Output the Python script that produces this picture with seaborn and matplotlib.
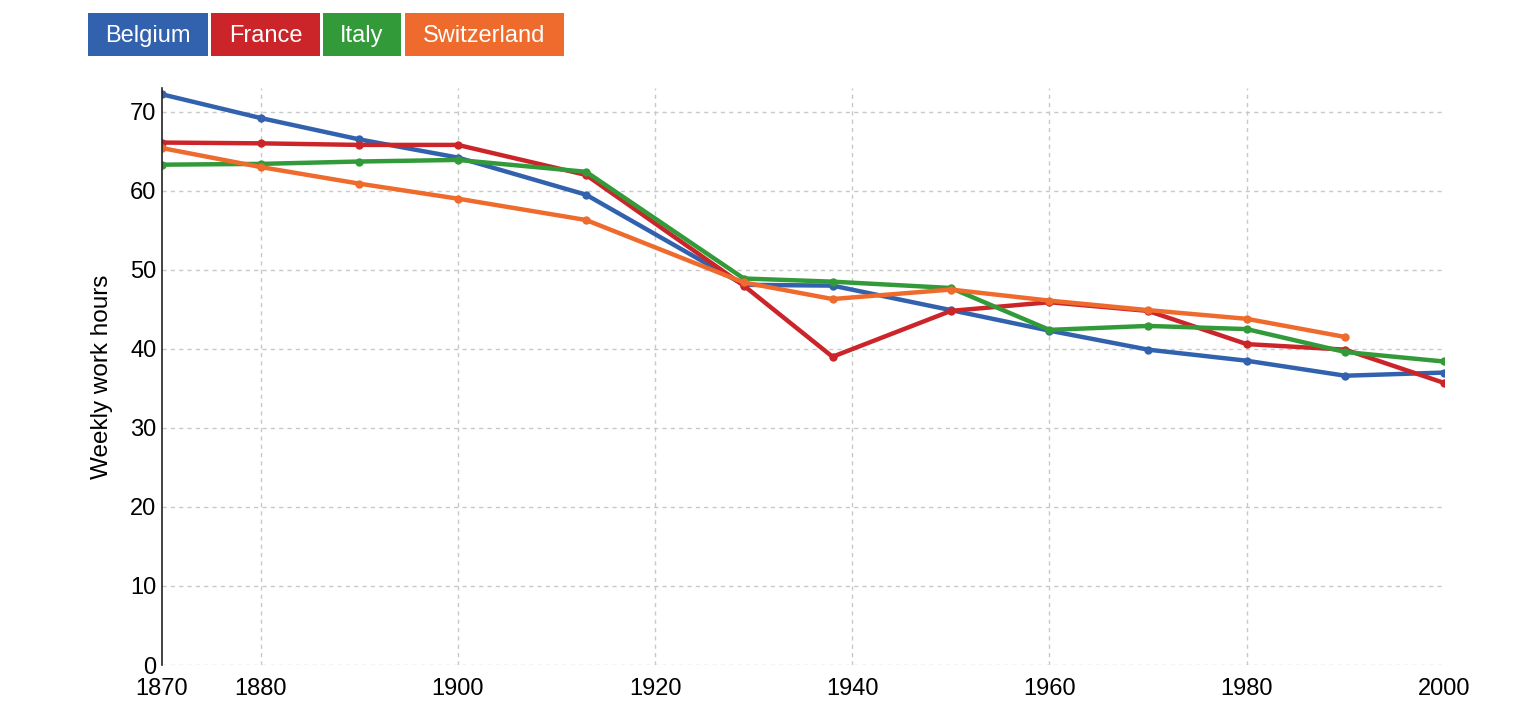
import pandas as pd
import numpy as np
import matplotlib.pyplot as plt
import seaborn as sns
from matplotlib.patches import Rectangle

# data
years = [1870, 1880, 1890, 1900, 1913, 1929, 1938, 1950, 1960, 1970, 1980, 1990, 2000]
belgium = [72.2, 69.2, 66.5, 64.2, 59.5, 48.1, 48.0, 44.9, 42.3, 39.9, 38.5, 36.6, 37.0]
france = [66.1, 66.0, 65.8, 65.8, 62.0, 48.0, 39.0, 44.8, 45.9, 44.8, 40.6, 39.9, 35.7]
italy = [63.3, 63.4, 63.7, 63.9, 62.4, 48.9, 48.5, 47.7, 42.4, 42.9, 42.5, 39.6, 38.4]
switzerland = [65.4, 63.0, 60.9, 59.0, 56.3, 48.4, 46.3, 47.5, 46.1, 44.9, 43.8, 41.5, np.nan]

countries = ['Belgium', 'France', 'Italy', 'Switzerland']
colors = ['#3262ae', '#cc2529', '#339a3a', '#ee6b2d']
x_ticks = [1870, 1880, 1900, 1920, 1940, 1960, 1980, 2000]
y_ticks = [0, 10, 20, 30, 40, 50, 60, 70]

df = pd.DataFrame({'year': years, 'Belgium': belgium, 'France': france,
                   'Italy': italy, 'Switzerland': switzerland})
long_df = df.melt(id_vars='year', var_name='country', value_name='hours').dropna()

sns.set_style('white')
plt.rcParams['font.family'] = ['Liberation Sans', 'DejaVu Sans']
plt.rcParams['text.color'] = 'black'
plt.rcParams['xtick.color'] = 'black'
plt.rcParams['ytick.color'] = 'black'
plt.rcParams['axes.labelcolor'] = 'black'

fig = plt.figure(figsize=(15.36, 7.08), dpi=100)
ax = fig.add_axes([0.1055, 0.0607, 0.8345, 0.815])

sns.lineplot(data=long_df, x='year', y='hours', hue='country', hue_order=countries,
             palette=colors, marker='o', markersize=6, markeredgewidth=0,
             linewidth=3.2, legend=False, ax=ax)

ax.set_xlim(1870, 2000)
ax.set_ylim(0, 73)
ax.set_xticks(x_ticks)
ax.set_yticks(y_ticks)
ax.tick_params(axis='x', labelsize=17, length=0, pad=9)
ax.tick_params(axis='y', labelsize=17, length=0, pad=4)
ax.set_xlabel('')
ax.set_ylabel('Weekly work hours', fontsize=17.5, labelpad=12)

for v in y_ticks:
    ax.axhline(v, color='#c8c8c8', linestyle=(0, (3, 3)), linewidth=1, zorder=0)
for v in x_ticks[1:-1]:
    ax.axvline(v, color='#c8c8c8', linestyle=(0, (3, 3)), linewidth=1, zorder=0)

for s in ['top', 'right', 'bottom']:
    ax.spines[s].set_visible(False)
ax.spines['left'].set_color('#222222')
ax.spines['left'].set_linewidth(1.2)

# legend as coloured boxes at the top
box_x = [88, 211, 323, 405]
box_w = [120, 109, 78, 159]
for name, c, bx, bw in zip(countries, colors, box_x, box_w):
    fig.patches.append(Rectangle((bx / 1536, 1 - 56 / 708), bw / 1536, 43 / 708,
                                 transform=fig.transFigure, facecolor=c,
                                 edgecolor='none'))
    fig.text((bx + bw / 2) / 1536, 1 - 42 / 708, name, color='white',
             fontsize=17, ha='center', va='baseline')

fig.savefig('out.png', dpi=100)
